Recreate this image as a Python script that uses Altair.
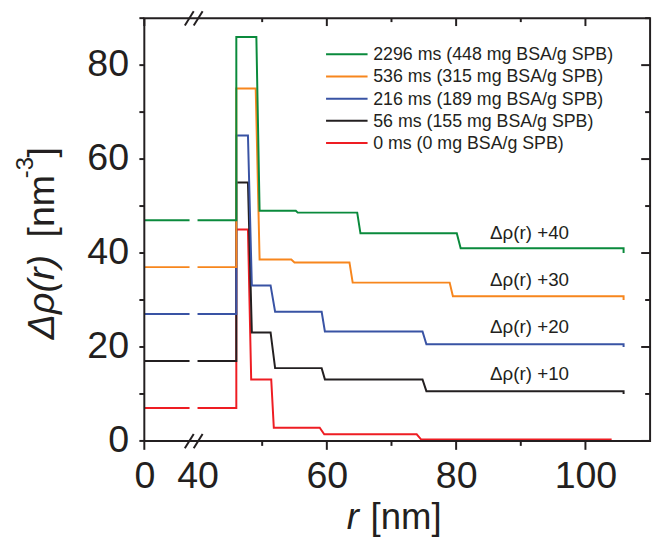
import altair as alt
import pandas as pd

# ---------------- data ----------------
series = [
    "0 ms (0 mg BSA/g SPB)",
    "56 ms (155 mg BSA/g SPB)",
    "216 ms (189 mg BSA/g SPB)",
    "536 ms (315 mg BSA/g SPB)",
    "2296 ms (448 mg BSA/g SPB)",
]
offsets = [0, 10, 20, 30, 40]
colors = ["#ee1d23", "#231f20", "#3953a4", "#f7861d", "#0a8a3c"]

# radial step profiles  r [nm]  ->  delta rho(r) [nm^-3]  (without offset)
r_0ms = [0, 34, 40, 46.0, 46.0, 47.8, 48.3, 51.4, 51.8, 58.9, 59.6, 73.9, 74.6, 103.9, 103.9]
rho_0ms = [7, 7, 7, 7, 45, 45, 13.1, 13.1, 2.8, 2.8, 1.4, 1.4, 0.3, 0.3, 0]

r_56ms = [0, 34, 40, 46.0, 46.0, 47.8, 48.4, 51.3, 52.0, 59.2, 59.7, 74.8, 75.4, 105.9, 105.9]
rho_56ms = [7, 7, 7, 7, 45, 45, 13.1, 13.1, 5.5, 5.5, 3.1, 3.1, 0.6, 0.6, 0]

r_216ms = [0, 34, 40, 46.0, 46.0, 47.8, 48.4, 51.3, 52.0, 59.2, 59.7, 74.8, 75.4, 105.9, 105.9]
rho_216ms = [7, 7, 7, 7, 45, 45, 13.1, 13.1, 7.5, 7.5, 3.3, 3.3, 0.6, 0.6, 0]

r_536ms = [0, 34, 40, 46.0, 46.0, 49.0, 49.6, 54.5, 55.0, 63.5, 64.0, 79.0, 79.5, 105.9, 105.9]
rho_536ms = [7, 7, 7, 7, 45, 45, 8.6, 8.6, 8.0, 8.0, 3.7, 3.7, 0.8, 0.8, 0]

r_2296ms = [0, 34, 40, 46.0, 46.0, 49.1, 49.6, 55.2, 55.5, 64.7, 65.2, 80.1, 80.7, 105.9, 105.9]
rho_2296ms = [7, 7, 7, 7, 46, 46, 9.0, 9.0, 8.6, 8.6, 4.2, 4.2, 1.0, 1.0, 0]

r_all = [r_0ms, r_56ms, r_216ms, r_536ms, r_2296ms]
rho_all = [rho_0ms, rho_56ms, rho_216ms, rho_536ms, rho_2296ms]

annot_offsets = [40, 30, 20, 10]
annot_texts = ["\u0394\u03c1(r) +40", "\u0394\u03c1(r) +30", "\u0394\u03c1(r) +20", "\u0394\u03c1(r) +10"]

x_labels = [40, 60, 80, 100]          # plus "0" at the start of the compressed part
x_major = [60, 80, 100]
x_minor = [50, 70, 90]
y_all = list(range(0, 91, 10))
y_major = list(range(0, 81, 20))
y_minor = list(range(10, 91, 20))

# ---------------- layout constants ----------------
FONT = "Liberation Sans"
INK = "#231f20"
W, H = 512, 428
R_BREAK = 40          # axis break position
U0 = 31.77            # display position of r = 0 (compressed 0..40 part)
X_MAX = 110
Y_MAX = 90
BREAK_U = 39.41       # where the break marks sit
PX_X = (X_MAX - U0) / W   # data units per pixel
PX_Y = Y_MAX / H

rows = []
for s, off, rs, ps in zip(series, offsets, r_all, rho_all):
    for i, (r, p) in enumerate(zip(rs, ps)):
        rows.append({"series": s, "offset": off, "r": r, "rho": p, "i": i})
df = pd.DataFrame(rows)

x_scale = alt.Scale(domain=[U0, X_MAX], nice=False, zero=False, clamp=False)
y_scale = alt.Scale(domain=[0, Y_MAX], nice=False, zero=False, clamp=False)
color = alt.Color("series:N", scale=alt.Scale(domain=series, range=colors), legend=None)

label_axis = dict(
    grid=False, title=None, domain=False, ticks=False,
    labelFont=FONT, labelColor=INK, labelFontSize=38,
    labelOverlap=False, labelFlush=False,
)
bottom_labels = alt.Axis(
    values=[U0] + x_labels, orient="bottom",
    labelExpr=f"datum.value < {R_BREAK - 5} ? '0' : format(datum.value, 'd')",
    labelPadding=17, **label_axis,
)
left_labels = alt.Axis(
    values=y_major, orient="left",
    labelExpr="format(datum.value, 'd')",
    labelPadding=16, **label_axis,
)


def X(field):
    return alt.X(field, type="quantitative", scale=x_scale, axis=bottom_labels)


def Y(field):
    return alt.Y(field, type="quantitative", scale=y_scale, axis=left_labels)


u_expr = f"datum.r >= {R_BREAK} ? datum.r : {U0} + datum.r * ({R_BREAK} - {U0}) / {R_BREAK}"

lines = alt.Chart(df).transform_calculate(
    u=u_expr,
    v="datum.rho + datum.offset",
    seg=f"datum.r < {R_BREAK - 3} ? 'core' : 'shell'",
).mark_line(strokeWidth=2).encode(
    x=X("u"), y=Y("v"), color=color, detail="seg:N", order="i:Q",
)

# ---------- frame and ticks drawn as polylines in data space ----------
paths = [[(U0, 0), (X_MAX, 0), (X_MAX, Y_MAX), (U0, Y_MAX), (U0, 0)]]
for t in [U0] + x_major:
    paths.append([(t, 0), (t, -9 * PX_Y)])               # bottom, outward
    paths.append([(t, Y_MAX), (t, Y_MAX - 8 * PX_Y)])     # top, inward
for t in x_minor:
    paths.append([(t, 0), (t, -5 * PX_Y)])
    paths.append([(t, Y_MAX), (t, Y_MAX - 4 * PX_Y)])
for t in y_all:
    paths.append([(U0, t), (U0 - 5 * PX_X, t)])           # left, outward
for t in y_major:
    paths.append([(X_MAX, t), (X_MAX - 9 * PX_X, t)])     # right, inward
for t in y_minor:
    paths.append([(X_MAX, t), (X_MAX - 5 * PX_X, t)])
frame_rows = []
for pid, pts in enumerate(paths):
    for k, (px, py) in enumerate(pts):
        frame_rows.append({"pid": pid, "k": k, "fx": px, "fy": py})
frame_df = pd.DataFrame(frame_rows)

frame = alt.Chart(frame_df).mark_line(color=INK, strokeWidth=2, strokeJoin="miter").encode(
    x=X("fx"), y=Y("fy"), detail="pid:N", order="k:Q",
)

# annotations  "Δρ(r) +40" ...
ann_df = pd.DataFrame({"off": annot_offsets, "txt": annot_texts})
annots = alt.Chart(ann_df).transform_calculate(
    u="85.25", v="datum.off + 3.0"
).mark_text(font=FONT, fontSize=19, color=INK, align="left", baseline="alphabetic").encode(
    x=X("u"), y=Y("v"), text="txt:N",
)

# legend (manual, listed top -> bottom)
leg_df = pd.DataFrame({"series": series[::-1], "k": list(range(len(series)))})
leg_base = alt.Chart(leg_df).transform_calculate(
    ly="82.3 - 4.72 * datum.k", lx1="59.88", lx2="66.30", lt="67.17"
)
leg_rules = leg_base.mark_rule(strokeWidth=2).encode(
    x=X("lx1"), x2="lx2:Q", y=Y("ly"), color=color,
)
leg_text = leg_base.mark_text(font=FONT, fontSize=18, color=INK, align="left", baseline="middle", dy=1).encode(
    x=X("lt"), y=Y("ly"), text="series:N",
)

# axis break marks "//" on the bottom and top axis lines
brk_df = pd.DataFrame({"v": [0, Y_MAX]})
brk_base = alt.Chart(brk_df).transform_calculate(u=str(BREAK_U))
slashes = [
    brk_base.mark_rule(strokeWidth=2, color=INK, xOffset=dx0, x2Offset=dx1, yOffset=7.5, y2Offset=-7).encode(
        x=X("u"), x2="u:Q", y=Y("v"), y2="v:Q",
    )
    for dx0, dx1 in [(-9, 0), (0, 9)]
]


# axis titles (mixed italic / upright / superscript)
def label(txt, x, y, size=38, style="normal", angle=0, align="left"):
    return alt.Chart(pd.DataFrame({"t": [txt]})).mark_text(
        font=FONT, fontSize=size, fontStyle=style, color=INK, angle=angle,
        align=align, baseline="alphabetic",
    ).encode(x=alt.value(x), y=alt.value(y), text="t:N")


titles = [
    label("r", 205, 517, size=37, style="italic"),
    label("[nm]", 229, 517, size=37),
    label("\u0394\u03c1(r)", -91, 325, style="italic", angle=270),
    label("[nm", -91, 222, angle=270),
    label("-3", -113, 162, size=24, angle=270),
    label("]", -91, 141, angle=270),
]

chart = alt.layer(
    lines, frame, annots, leg_rules, leg_text, *slashes, *titles
).properties(
    width=W, height=H,
    autosize=alt.AutoSizeParams(type="none"),
    padding={"left": 138, "top": 7, "right": 7, "bottom": 96},
).configure_view(stroke=None)

chart.save("out.html", embed_options={"renderer": "svg", "actions": False})
